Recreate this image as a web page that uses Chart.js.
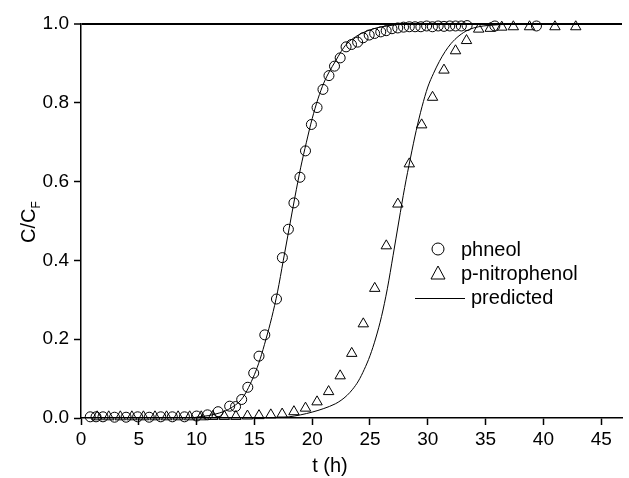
<!DOCTYPE html>
<html>
<head>
<meta charset="utf-8">
<script src="https://cdn.jsdelivr.net/npm/chart.js@4/dist/chart.umd.min.js"></script>
<style>
html,body{margin:0;padding:0;background:#fff;}
#wrap{width:629px;height:478px;position:relative;}
</style>
</head>
<body>
<div id="wrap"><canvas id="c" width="629" height="478"></canvas></div>
<script>
// ---- data ----
const phenolT = [0.8,1.3,1.9,2.9,3.9,4.9,5.9,6.9,7.9,8.95,10.0,10.94,11.86,12.86,13.37,13.9,14.43,14.94,15.4,15.9,16.91,17.42,17.94,18.42,18.94,19.42,19.93,20.42,20.93,21.45,21.93,22.42,22.93,23.4,23.93,24.4,24.93,25.4,25.93,26.4,26.9,27.4,27.9,28.4,28.9,29.4,29.9,30.4,30.9,31.4,31.9,32.4,32.9,33.4,35.8,39.4];
const phenolC = [0.003,0.003,0.003,0.002,0.002,0.003,0.002,0.003,0.003,0.003,0.005,0.008,0.016,0.030,0.029,0.047,0.078,0.114,0.157,0.211,0.302,0.407,0.479,0.546,0.611,0.678,0.745,0.788,0.834,0.869,0.893,0.914,0.942,0.948,0.954,0.965,0.972,0.976,0.980,0.983,0.988,0.990,0.992,0.993,0.993,0.993,0.995,0.993,0.995,0.994,0.995,0.995,0.995,0.996,0.995,0.995];

const pnpT = [1.4,2.4,3.4,4.4,5.4,6.4,7.4,8.4,9.4,10.4,11.4,12.4,13.4,14.4,15.4,16.42,17.4,18.42,19.42,20.42,21.42,22.42,23.42,24.42,25.41,26.41,27.41,28.4,29.47,30.41,31.4,32.4,33.35,34.4,35.4,36.4,37.4,38.8,41.0,42.8];
const pnpC = [0.003,0.003,0.003,0.003,0.003,0.003,0.003,0.003,0.003,0.003,0.004,0.004,0.004,0.005,0.006,0.008,0.010,0.016,0.025,0.041,0.067,0.107,0.164,0.239,0.329,0.437,0.543,0.645,0.744,0.814,0.883,0.932,0.958,0.987,0.989,0.992,0.993,0.993,0.993,0.993];

const predPhenolT = [0,9.5,10,11,12,13,14,15,15.5,16,16.5,17,17.5,18,18.5,19,19.5,20,20.5,21,21.5,22,22.5,23,24,25,26,27,28,30,47];
const predPhenolC = [0,0,0.002,0.006,0.013,0.026,0.052,0.11,0.15,0.2,0.255,0.32,0.4,0.48,0.56,0.635,0.7,0.76,0.81,0.85,0.88,0.905,0.93,0.95,0.972,0.985,0.993,0.997,1.0,1.0,1.0];

const predPnpT = [0,17,18,19,20,21,22,22.5,23,23.5,24,24.5,25,25.5,26,26.5,27,27.5,28,28.5,29,29.5,30,30.5,31,31.5,32,32.7,33.5,34.4,36,38,47];
const predPnpC = [0,0,0.003,0.008,0.015,0.024,0.036,0.045,0.057,0.073,0.094,0.123,0.158,0.203,0.258,0.328,0.413,0.5,0.585,0.66,0.73,0.79,0.84,0.875,0.905,0.93,0.95,0.97,0.985,0.993,0.998,1.0,1.0];

const xTicks = [0,5,10,15,20,25,30,35,40,45];
const yTicks = [0,0.2,0.4,0.6,0.8,1.0];
const legendLabels = ['phneol','p-nitrophenol','predicted'];
const xTitle = 't (h)';

const toXY = (xs, ys) => xs.map((x,i)=>({x:x, y:ys[i]}));
const FONT = "'Liberation Sans', Arial, sans-serif";

const overlay = {
  id:'overlay',
  afterDraw(chart){
    const ctx = chart.ctx;
    ctx.save();
    ctx.fillStyle = '#000';
    ctx.strokeStyle = '#000';
    // y title with subscript
    ctx.save();
    ctx.translate(29, 222);
    ctx.rotate(-Math.PI/2);
    ctx.font = '20px ' + FONT;
    ctx.textBaseline = 'middle';
    const main = 'C/C';
    const wMain = ctx.measureText(main).width;
    ctx.font = '12px ' + FONT;
    const wSub = ctx.measureText('F').width;
    const start = -(wMain + wSub)/2;
    ctx.font = '20px ' + FONT;
    ctx.textAlign = 'left';
    ctx.fillText(main, start, 0);
    ctx.font = '12px ' + FONT;
    ctx.fillText('F', start + wMain, 8);
    ctx.restore();
    // x title
    ctx.font = '20px ' + FONT;
    ctx.textAlign = 'center';
    ctx.textBaseline = 'middle';
    ctx.fillText(xTitle, 330, 466);
    // legend
    ctx.lineWidth = 1;
    ctx.beginPath(); ctx.arc(438, 249, 6, 0, Math.PI*2); ctx.stroke();
    ctx.beginPath();
    ctx.moveTo(438, 266); ctx.lineTo(445, 279); ctx.lineTo(431, 279); ctx.closePath(); ctx.stroke();
    ctx.beginPath(); ctx.moveTo(415, 298.5); ctx.lineTo(465, 298.5); ctx.stroke();
    ctx.font = '20px ' + FONT;
    ctx.textAlign = 'left';
    ctx.textBaseline = 'middle';
    ctx.fillText(legendLabels[0], 461, 250);
    ctx.fillText(legendLabels[1], 461, 274);
    ctx.fillText(legendLabels[2], 471, 298);
    ctx.restore();
  }
};

new Chart(document.getElementById('c'), {
  type: 'scatter',
  data: {
    datasets: [
      {label: legendLabels[0], data: toXY(phenolT, phenolC), pointStyle:'circle', pointRadius:5, borderColor:'#000', backgroundColor:'rgba(0,0,0,0)', borderWidth:1, showLine:false, clip:false},
      {label: legendLabels[1], data: toXY(pnpT, pnpC), pointStyle:'triangle', pointRadius:6, borderColor:'#000', backgroundColor:'rgba(0,0,0,0)', borderWidth:1, showLine:false, clip:false},
      {label: legendLabels[2], data: toXY(predPhenolT, predPhenolC), showLine:true, pointRadius:0, borderColor:'#000', borderWidth:1, cubicInterpolationMode:'monotone', fill:false},
      {label: legendLabels[2], data: toXY(predPnpT, predPnpC), showLine:true, pointRadius:0, borderColor:'#000', borderWidth:1, cubicInterpolationMode:'monotone', fill:false}
    ]
  },
  options: {
    responsive:false,
    animation:false,
    devicePixelRatio:1,
    layout:{padding:{top:24,right:0,bottom:0,left:0}},
    plugins:{legend:{display:false}, tooltip:{enabled:false}},
    scales:{
      x:{
        type:'linear', min:0, max:46.8,
        afterBuildTicks(s){ s.ticks = xTicks.map(v=>({value:v})); },
        afterFit(s){ s.height = 60; },
        ticks:{color:'#000', font:{family:FONT, size:19}, padding:3, maxRotation:0, callback:v=>String(v)},
        grid:{display:true, drawOnChartArea:false, tickLength:7, tickColor:'#000', tickWidth:1.5},
        border:{display:true, color:'#000', width:1.5}
      },
      y:{
        type:'linear', min:0, max:1,
        afterBuildTicks(s){ s.ticks = yTicks.map(v=>({value:v})); },
        afterFit(s){ s.width = 81; },
        ticks:{color:'#000', font:{family:FONT, size:19}, padding:5, callback:v=>Number(v).toFixed(1)},
        grid:{display:true, drawOnChartArea:true, tickLength:7, tickColor:'#000', tickWidth:1.5,
          color:(c)=> (c.tick && Math.abs(c.tick.value-1)<1e-9) ? '#000' : 'rgba(0,0,0,0)',
          lineWidth:(c)=> (c.tick && Math.abs(c.tick.value-1)<1e-9) ? 2 : 1},
        border:{display:true, color:'#000', width:1.5}
      }
    }
  },
  plugins:[overlay]
});
</script>
</body>
</html>
